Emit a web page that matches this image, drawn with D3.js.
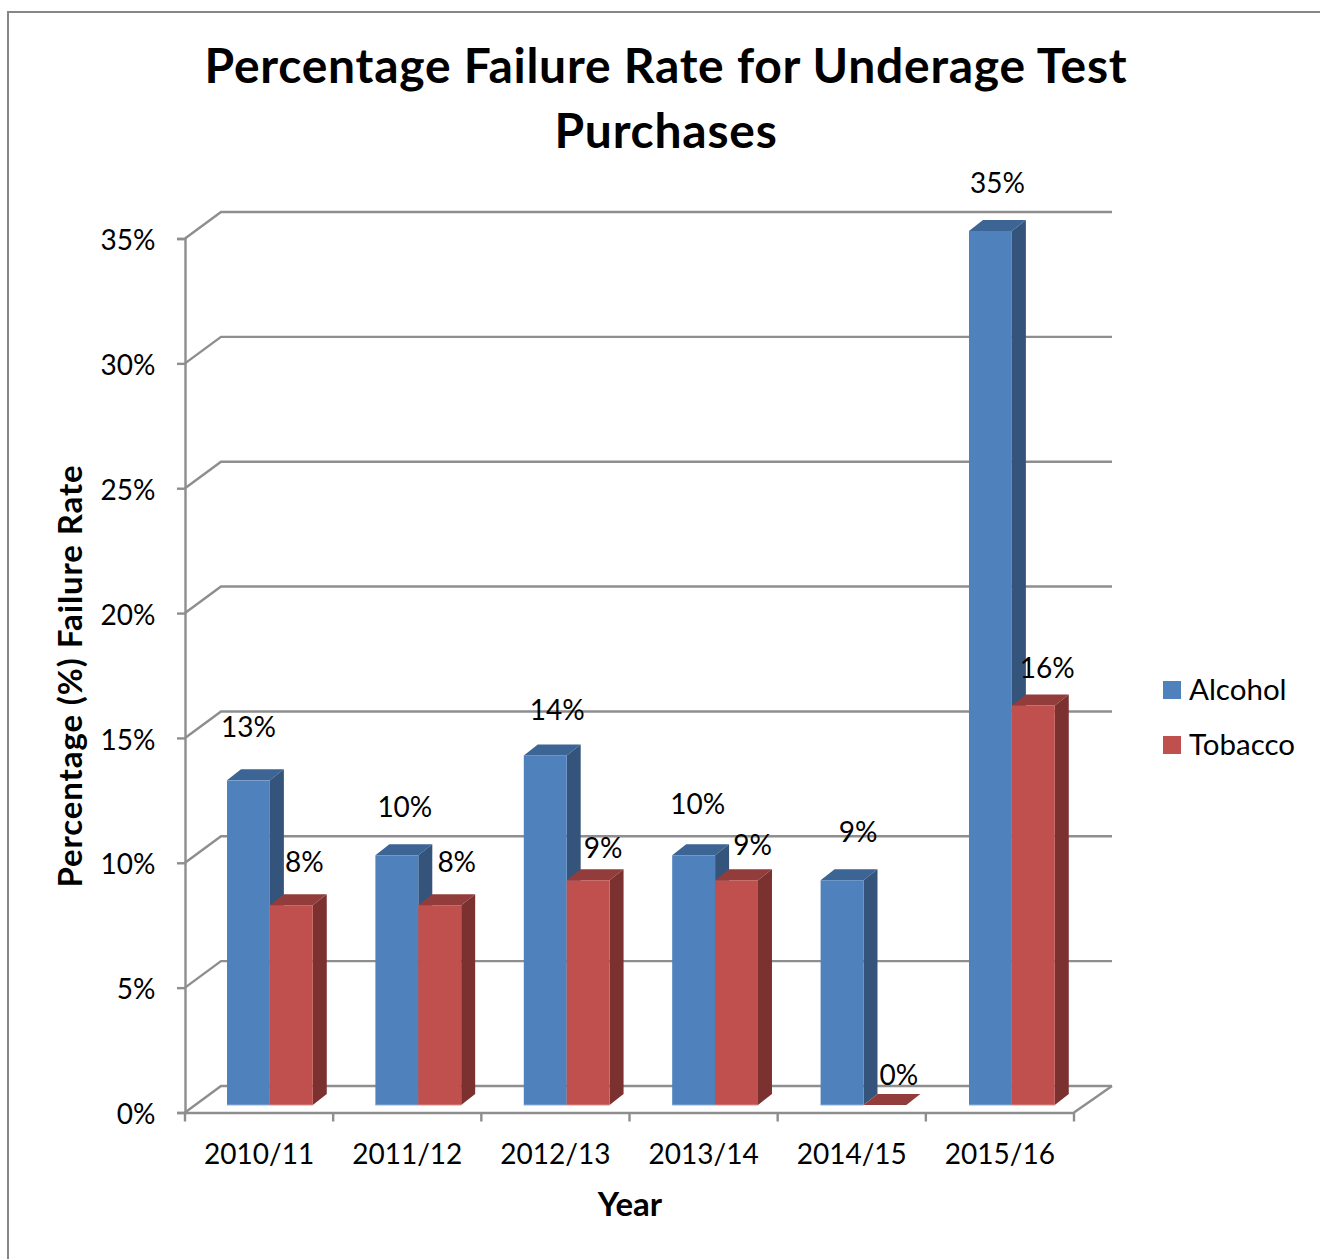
<!DOCTYPE html>
<html>
<head>
<meta charset="utf-8">
<script src="https://cdnjs.cloudflare.com/ajax/libs/d3/7.8.5/d3.min.js"></script>
<style>
html, body { margin: 0; padding: 0; background: #fff; overflow: hidden; }
text { font-family: Lato, "Open Sans", sans-serif; fill: #000; }
</style>
</head>
<body>
<script>
let years = ["2010/11", "2011/12", "2012/13", "2013/14", "2014/15", "2015/16"]
let seriesNames = ["Alcohol", "Tobacco"]
let alcohol = [13, 10, 14, 10, 9, 35]
let tobacco = [8, 8, 9, 9, 0, 16]
let yTicks = [0, 5, 10, 15, 20, 25, 30, 35]

// hand placed data labels, relative to the top centre of the bar front
let alcoholLabelShift = [[0, -54], [8, -49], [12, -46], [4, -52], [16, -49], [7, -49]]
let tobaccoLabelShift = [[13, -44], [17, -44], [15, -33], [16, -36], [14, -31], [14, -38]]

let fronts = { Alcohol: "#4f81bd", Tobacco: "#c0504d" }
let edges = { Alcohol: "#8db0dc", Tobacco: "#dc8f8c" }
let sides = { Alcohol: "#34547b", Tobacco: "#7b3130" }
let tops = { Alcohol: "#3c6494", Tobacco: "#923d3b" }
let axisColor = "#8e8e8e"

let width = 1320
let height = 1259

// fake 3d depth of the chart box and of each bar
let wallDx = 36
let wallDy = -26.5
let barDx = 14
let barDy = -11

let svg = d3.select("body")
	.append("svg")
	.attr("width", width)
	.attr("height", height)
	.style("display", "block")

// outer chart frame, runs off the right and bottom of the image
svg.append("rect")
	.attr("x", 8)
	.attr("y", 12)
	.attr("width", width)
	.attr("height", height)
	.style("fill", "#fff")
	.style("stroke", "#868686")
	.style("stroke-width", 2)

//scales
let x = d3.scaleBand()
	.domain(years)
	.range([185, 1074])

// bars sit on a slightly wider step than the axis
let barX = d3.scaleBand()
	.domain(years)
	.range([185, 1075.4])

let y = d3.scaleLinear()
	.domain([0, 35])
	.range([1112.5, 238.5])

let barY = d3.scaleLinear()
	.domain([0, 35])
	.range([1105, 231])

let series = d3.scaleBand()
	.domain(seriesNames)
	.range([barX.bandwidth() * 0.283, barX.bandwidth() * 0.861])

let grid = svg.append("g")

yTicks.forEach(t => {
	grid.append("path")
		.attr("d", d3.line()([
			[x.range()[0], y(t)],
			[x.range()[0] + wallDx, y(t) + wallDy],
			[x.range()[1] + wallDx + 2, y(t) + wallDy]
		]))
		.style("fill", "none")
		.style("stroke", axisColor)
		.style("stroke-width", 2.4)
})

// right edge of the floor
grid.append("path")
	.attr("d", d3.line()([
		[x.range()[1], y(0)],
		[x.range()[1] + wallDx + 2, y(0) + wallDy]
	]))
	.style("stroke", axisColor)
	.style("stroke-width", 2.4)

let yAxis = d3.axisLeft(y)
	.tickValues(yTicks)
	.tickFormat(d => d + "%")
	.tickSize(8)
	.tickPadding(21.5)

let xAxis = d3.axisBottom(x)
	.tickSize(0)
	.tickPadding(32)

let yG = svg.append("g")
	.attr("transform", "translate(185,0)")
	.call(yAxis)

let xG = svg.append("g")
	.attr("transform", "translate(0,1112.5)")
	.call(xAxis)

// category ticks sit between the bands
xG.selectAll(".edge")
	.data(d3.range(years.length + 1))
	.enter()
	.append("line")
	.attr("x1", d => x.range()[0] + d * x.step())
	.attr("x2", d => x.range()[0] + d * x.step())
	.attr("y1", 0)
	.attr("y2", 9)

for (let g of [yG, xG]) {
	g.selectAll("path, line").style("stroke", axisColor).style("stroke-width", 2.4)
	g.selectAll("text")
		.style("font-size", "28px")
		.style("font-family", "Lato, sans-serif")
		.style("fill", "#000")
}
yG.selectAll("text").attr("dy", "0.4em")

let rows = []
years.forEach((year, i) => {
	rows.push({ year, name: "Alcohol", value: alcohol[i], shift: alcoholLabelShift[i] })
	rows.push({ year, name: "Tobacco", value: tobacco[i], shift: tobaccoLabelShift[i] })
})

let barLeft = d => barX(d.year) + series(d.name)
let barRight = d => barLeft(d) + series.bandwidth()

let bars = svg.append("g")
	.selectAll("g")
	.data(rows)
	.enter()
	.append("g")

// top face
bars.append("path")
	.attr("d", d => d3.line()([
		[barLeft(d), barY(d.value)],
		[barLeft(d) + barDx, barY(d.value) + barDy],
		[barRight(d) + barDx, barY(d.value) + barDy],
		[barRight(d), barY(d.value)]
	]) + "Z")
	.style("fill", d => tops[d.name])

// side face
bars.append("path")
	.attr("d", d => d3.line()([
		[barRight(d), barY(d.value)],
		[barRight(d) + barDx, barY(d.value) + barDy],
		[barRight(d) + barDx, barY(0) + barDy],
		[barRight(d), barY(0)]
	]) + "Z")
	.style("fill", d => sides[d.name])

// front face
bars.append("rect")
	.attr("x", barLeft)
	.attr("y", d => barY(d.value))
	.attr("width", series.bandwidth())
	.attr("height", d => barY(0) - barY(d.value))
	.style("fill", d => fronts[d.name])

// thin light edge along the foot of each bar
bars.filter(d => d.value > 0)
	.append("line")
	.attr("x1", barLeft)
	.attr("x2", barRight)
	.attr("y1", barY(0))
	.attr("y2", barY(0))
	.style("stroke", d => edges[d.name])
	.style("stroke-width", 1)

svg.append("g")
	.selectAll("text")
	.data(rows)
	.enter()
	.append("text")
	.attr("x", d => (barLeft(d) + barRight(d)) / 2 + d.shift[0])
	.attr("y", d => barY(d.value) + d.shift[1])
	.attr("dy", "0.38em")
	.attr("text-anchor", "middle")
	.style("font-size", "28px")
	.text(d => d.value + "%")

// title
svg.append("text")
	.attr("x", 666)
	.attr("y", 83)
	.attr("text-anchor", "middle")
	.style("font-size", "48px")
	.style("letter-spacing", "0.75px")
	.style("font-weight", 700)
	.text("Percentage Failure Rate for Underage Test")

svg.append("text")
	.attr("x", 666)
	.attr("y", 148)
	.attr("text-anchor", "middle")
	.style("font-size", "48px")
	.style("letter-spacing", "0.75px")
	.style("font-weight", 700)
	.text("Purchases")

svg.append("text")
	.attr("x", 630)
	.attr("y", 1216)
	.attr("text-anchor", "middle")
	.style("font-size", "33px")
	.style("font-weight", 700)
	.text("Year")

svg.append("text")
	.attr("transform", "translate(82,676) rotate(-90)")
	.attr("text-anchor", "middle")
	.style("font-size", "33px")
	.style("letter-spacing", "0.9px")
	.style("font-weight", 700)
	.text("Percentage (%) Failure Rate")

// legend
let legendY = d3.scalePoint()
	.domain(seriesNames)
	.range([690, 745])

let legend = svg.append("g")
	.selectAll("g")
	.data(seriesNames)
	.enter()
	.append("g")
	.attr("transform", d => "translate(1163," + legendY(d) + ")")

legend.append("rect")
	.attr("y", -9)
	.attr("width", 18)
	.attr("height", 18)
	.style("fill", d => fronts[d])

legend.append("text")
	.attr("x", 26)
	.attr("y", -1)
	.attr("dy", "0.36em")
	.style("font-size", "29.5px")
	.text(d => d)
</script>
</body>
</html>
